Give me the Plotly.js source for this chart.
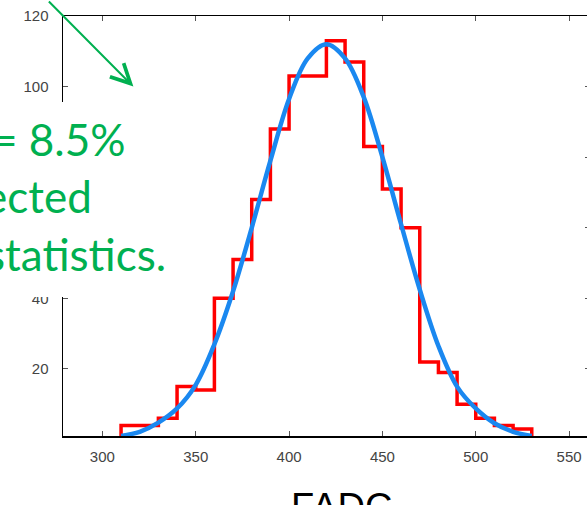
<!DOCTYPE html>
<html>
<head>
<meta charset="utf-8">
<script src="https://cdn.plot.ly/plotly-3.0.1.min.js"></script>
<style>
html,body{margin:0;padding:0;overflow:hidden;background:#fff;}
#chart{width:590px;height:505px;}
</style>
</head>
<body>
<div id="chart"></div>
<script>
// Histogram bin left edges (width 10) and counts
const binEdges = [310,320,330,340,350,360,370,380,390,400,410,420,430,440,450,460,470,480,490,500,510,520];
const binWidth = 10;
const counts   = [4,4,6,15,14,40,51,68,88,103,103,113,107,83,71,60,22,19,10,6,4,3];

// Gaussian fit curve
const fitX = [310,320,330,340,350,360,370,380,390,400,410,420,430,440,450,460,470,480,490,500,510,520,530];
const fitY = [1,2.2,4.8,8.8,15.5,27,42,60,79,96.5,108,112,108,97,80,61,42.5,26.5,15,8.8,4.6,2.2,1];

const xTicks = [300,350,400,450,500,550];
const yTicks = [20,40,60,80,100,120];

const textLines = ["= 8.5%", "ected", "statistics."];
const xTitle = "FADC";

// step outline built from bins
const lastEdge = binEdges[binEdges.length-1] + binWidth;
const stepX = [binEdges[0]].concat(binEdges, [lastEdge, lastEdge]);
const stepY = [0].concat(counts, [counts[counts.length-1], 0]);

const green = '#00b050';
const tickFont = {family:'Liberation Sans, Arial, sans-serif', size:15, color:'#444'};
const textFont = {family:'Lato, Carlito, sans-serif', size:44, color:green};

// pixel -> paper helpers (plot area: x 63..590, y 16..436)
const px = v => (v - 63) / 527;
const py = v => (436 - v) / 420;

const traces = [
  {x: stepX, y: stepY, type:'scatter', mode:'lines',
   line:{shape:'hv', color:'#ff0000', width:3.5}, hoverinfo:'skip'},
  {x: fitX, y: fitY, type:'scatter', mode:'lines',
   line:{shape:'spline', smoothing:1, color:'#1a88f0', width:4.5}, hoverinfo:'skip'}
];

const layout = {
  width:590, height:505,
  margin:{l:63, r:0, t:16, b:69},
  paper_bgcolor:'#fff', plot_bgcolor:'#fff',
  showlegend:false,
  xaxis:{range:[278.9,561.2], tickvals:xTicks, ticktext:xTicks.map(String),
    showgrid:false, zeroline:false, showline:true, linecolor:'#000', linewidth:1.5,
    mirror:'ticks', ticks:'inside', ticklen:5, tickwidth:1, tickcolor:'#555',
    tickfont:tickFont, ticklabelstandoff:6},
  yaxis:{range:[1,120], tickvals:yTicks, ticktext:yTicks.map(String),
    showgrid:false, zeroline:false, showline:true, linecolor:'#000', linewidth:1.5,
    mirror:'ticks', ticks:'inside', ticklen:5, tickwidth:1, tickcolor:'#555',
    tickfont:tickFont, ticklabelstandoff:10},
  shapes:[
    {type:'rect', xref:'paper', yref:'paper', x0:px(-5), x1:px(190), y0:py(297), y1:py(102),
     fillcolor:'#ffffff', line:{width:0}, layer:'above'}
  ],
  annotations:[
    {xref:'x', yref:'y', x:316.6, y:100, ax:-86, ay:-92, text:'', showarrow:true,
     arrowcolor:green, arrowwidth:2, arrowhead:5, arrowsize:1.9},
    {xref:'paper', yref:'paper', x:px(127), y:py(156.7), xanchor:'right', yanchor:'bottom',
     text:textLines[0], showarrow:false, font:textFont, yshift:-10},
    {xref:'paper', yref:'paper', x:px(94), y:py(214), xanchor:'right', yanchor:'bottom',
     text:textLines[1], showarrow:false, font:textFont, yshift:-10},
    {xref:'paper', yref:'paper', x:px(168), y:py(271.7), xanchor:'right', yanchor:'bottom',
     text:textLines[2], showarrow:false, font:textFont, yshift:-10},
    {xref:'paper', yref:'paper', x:px(341), y:py(490), xanchor:'center', yanchor:'top',
     text:xTitle, showarrow:false, font:{family:'Liberation Sans, Arial, sans-serif', size:38, color:'#000'}, yshift:6}
  ]
};

Plotly.newPlot('chart', traces, layout, {displayModeBar:false, staticPlot:true});
</script>
</body>
</html>
